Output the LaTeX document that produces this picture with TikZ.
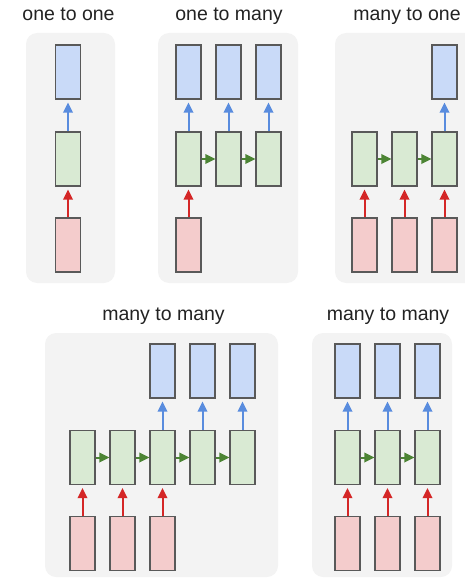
\documentclass[tikz,border=0pt]{standalone}
\usepackage{fontspec}
\setmainfont{Liberation Sans}
\usetikzlibrary{arrows.meta}

\definecolor{panelbg}{HTML}{F3F3F3}
\definecolor{boxline}{HTML}{595959}
\definecolor{infill}{HTML}{F4CCCC}
\definecolor{hidfill}{HTML}{D9EAD3}
\definecolor{outfill}{HTML}{C9DAF8}
\definecolor{inarrow}{HTML}{CC0000}
\definecolor{hidarrow}{HTML}{38761D}
\definecolor{outarrow}{HTML}{3C78D8}
\definecolor{titletext}{HTML}{222222}

\tikzset{
  panel/.style={fill=panelbg, draw=none, rounded corners=11pt},
  title/.style={anchor=base, font=\fontsize{19.5}{22}\selectfont, text=titletext},
  cell/.style={draw=boxline, line width=1.2pt, minimum width=25pt, minimum height=54pt, inner sep=0pt},
  inbox/.style={cell, fill=infill},
  hidbox/.style={cell, fill=hidfill},
  outbox/.style={cell, fill=outfill},
  tip/.style={-{Triangle[length=10pt,width=9.5pt]}, line width=2pt},
  uparrow/.style={tip, shorten >=3pt},
  inflow/.style={uparrow, draw=inarrow!85},
  outflow/.style={uparrow, draw=outarrow!85},
  recur/.style={tip, draw=hidarrow!90},
}

\begin{document}
\begin{tikzpicture}[x=1pt, y=-1pt]
\useasboundingbox (0,0) rectangle (465,580);

% ---- backgrounds
\fill[panel] (26,33) rectangle (115,283);
\fill[panel] (158,33) rectangle (298,283);
\fill[panel] (335,33) rectangle (478,283);
\fill[panel] (45,333) rectangle (278,577);
\fill[panel] (312,333) rectangle (452,577);

% ---- titles
\node[title] (t1) at (68.5,21) {one to one};
\node[title] (t2) at (229,21) {one to many};
\node[title] (t3) at (407,21) {many to one};
\node[title] (t4) at (163.5,320) {many to many};
\node[title] (t5) at (388,320) {many to many};

% ---- one to one
\node[outbox] (a-o) at (68,72) {};
\node[hidbox] (a-h) at (68,159) {};
\node[inbox]  (a-i) at (68,245) {};
\draw[inflow]  (a-i) -- (a-h);
\draw[outflow] (a-h) -- (a-o);

% ---- one to many
\foreach \k/\x in {1/188.5, 2/228.5, 3/268.5} {
  \node[outbox] (b-o\k) at (\x,72) {};
  \node[hidbox] (b-h\k) at (\x,159) {};
  \draw[outflow] (b-h\k) -- (b-o\k);
}
\node[inbox] (b-i1) at (188.5,245) {};
\draw[inflow] (b-i1) -- (b-h1);
\draw[recur] (b-h1) -- (b-h2);
\draw[recur] (b-h2) -- (b-h3);

% ---- many to one
\foreach \k/\x in {1/364.5, 2/404.5, 3/444.5} {
  \node[hidbox] (c-h\k) at (\x,159) {};
  \node[inbox]  (c-i\k) at (\x,245) {};
  \draw[inflow] (c-i\k) -- (c-h\k);
}
\node[outbox] (c-o3) at (444.5,72) {};
\draw[outflow] (c-h3) -- (c-o3);
\draw[recur] (c-h1) -- (c-h2);
\draw[recur] (c-h2) -- (c-h3);

% ---- many to many (delayed)
\foreach \k/\x in {1/82.5, 2/122.5, 3/162.5, 4/202.5, 5/242.5} {
  \node[hidbox] (d-h\k) at (\x,457.5) {};
}
\foreach \k/\x in {1/82.5, 2/122.5, 3/162.5} {
  \node[inbox] (d-i\k) at (\x,543.5) {};
  \draw[inflow] (d-i\k) -- (d-h\k);
}
\foreach \k/\x in {3/162.5, 4/202.5, 5/242.5} {
  \node[outbox] (d-o\k) at (\x,371) {};
  \draw[outflow] (d-h\k) -- (d-o\k);
}
\foreach \a/\b in {1/2, 2/3, 3/4, 4/5} {
  \draw[recur] (d-h\a) -- (d-h\b);
}

% ---- many to many (synced)
\foreach \k/\x in {1/347.5, 2/387.5, 3/427.5} {
  \node[outbox] (e-o\k) at (\x,371) {};
  \node[hidbox] (e-h\k) at (\x,457.5) {};
  \node[inbox]  (e-i\k) at (\x,543.5) {};
  \draw[inflow]  (e-i\k) -- (e-h\k);
  \draw[outflow] (e-h\k) -- (e-o\k);
}
\draw[recur] (e-h1) -- (e-h2);
\draw[recur] (e-h2) -- (e-h3);
\end{tikzpicture}
\end{document}
